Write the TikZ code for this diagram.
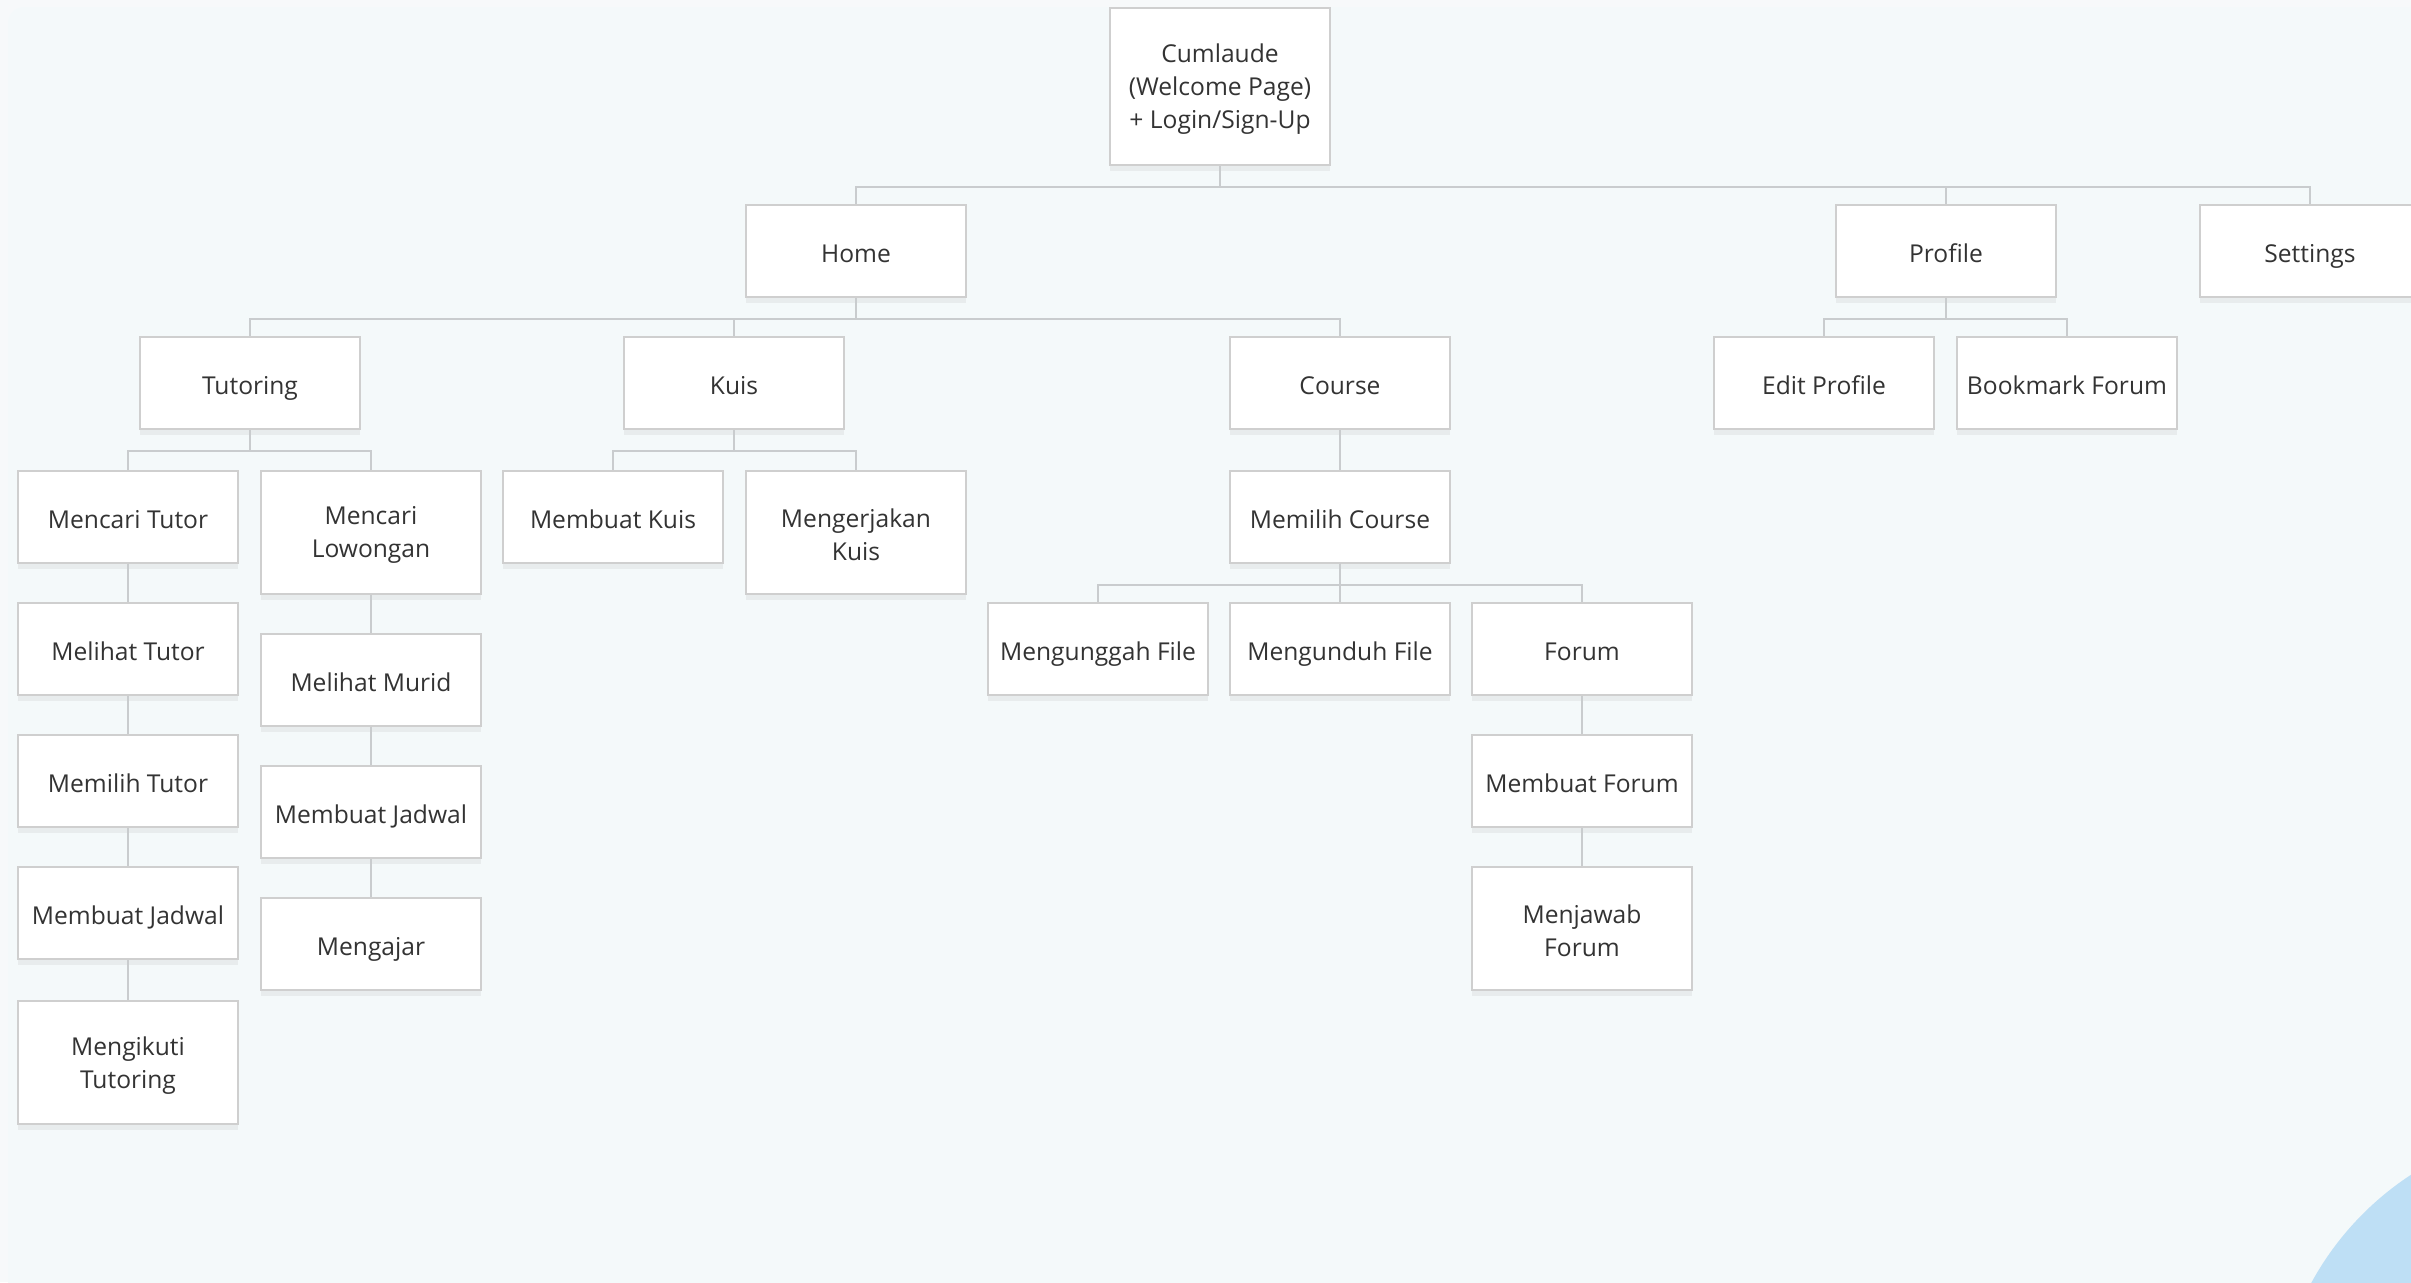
\documentclass[tikz,border=0pt]{standalone}
\usepackage{fontspec}
\setmainfont{Open Sans}
\usetikzlibrary{shadows}

\definecolor{bgouter}{HTML}{F7F9FA}
\definecolor{bginner}{HTML}{F4F9FA}
\definecolor{boxline}{HTML}{CFCFCF}
\definecolor{linkline}{HTML}{C9CCCE}
\definecolor{txt}{HTML}{333333}
\definecolor{blob}{HTML}{BEDFF5}

\begin{document}
\begin{tikzpicture}[
        x=0.5pt, y=-0.5pt,
        pagebase/.style={draw=boxline, line width=1pt, fill=white, align=center,
            text=txt, font=\fontsize{12.3}{16.5}\selectfont,
            minimum width=110pt, minimum height=46pt, inner sep=2pt,
            drop shadow={opacity=0.10, shadow xshift=0pt, shadow yshift=-3pt}},
        page/.style={pagebase, text height=14.6pt, text depth=3pt},
        tallpage/.style={pagebase, minimum height=61.5pt, text height=28.5pt},
        link/.style={draw=linkline, line width=1pt}]

    % canvas
    \useasboundingbox (0,0) rectangle (2411,1282);
    \clip (0,0) rectangle (2411,1282);
    \fill[bgouter] (0,0) rectangle (2411,1282);
    \fill[bginner, rounded corners=8pt] (8,7) rectangle (2460,1320);
    \fill[blob] (2575,1426) circle [radius=150pt];

    % level 0 and 1
    \node[pagebase, minimum height=78.5pt, text height=45pt] (root) at (1220,86.5) {Cumlaude\\(Welcome Page)\\+ Login/Sign-Up};
    \node[page] (home) at (856,251) {Home};
    \node[page] (profile) at (1946,251) {Profile};
    \node[page] (settings) at (2310,251) {Settings};

    % level 2
    \node[page] (tutoring) at (250,383) {Tutoring};
    \node[page] (kuis) at (734,383) {Kuis};
    \node[page] (course) at (1340,383) {Course};
    \node[page] (editprofile) at (1824,383) {Edit Profile};
    \node[page] (bookmark) at (2067,383) {Bookmark Forum};

    % tutoring branch
    \node[page] (caritutor) at (128,516.5) {Mencari Tutor};
    \node[page] (lihattutor) at (128,649) {Melihat Tutor};
    \node[page] (pilihtutor) at (128,781) {Memilih Tutor};
    \node[page] (jadwalmurid) at (128,913) {Membuat Jadwal};
    \node[tallpage] (ikuti) at (128,1062.5) {Mengikuti\\Tutoring};
    \node[tallpage] (carilowongan) at (371,532) {Mencari\\Lowongan};
    \node[page] (lihatmurid) at (371,679.5) {Melihat Murid};
    \node[page] (jadwaltutor) at (371,812) {Membuat Jadwal};
    \node[page] (ajar) at (371,944) {Mengajar};

    % kuis branch
    \node[page] (buatkuis) at (613,516.5) {Membuat Kuis};
    \node[tallpage] (kerjakuis) at (856,532) {Mengerjakan\\Kuis};

    % course branch
    \node[page] (pilihcourse) at (1340,516.5) {Memilih Course};
    \node[page] (unggah) at (1098,649) {Mengunggah File};
    \node[page] (unduh) at (1340,649) {Mengunduh File};
    \node[page] (forum) at (1582,649) {Forum};
    \node[page] (buatforum) at (1582,781) {Membuat Forum};
    \node[tallpage] (jawabforum) at (1582,928.5) {Menjawab\\Forum};

    % connectors
    \foreach \c in {home,profile,settings}
        \draw[link] (root.south) -- ++(0,21) -| (\c.north);
    \foreach \c in {tutoring,kuis,course}
        \draw[link] (home.south) -- ++(0,21) -| (\c.north);
    \foreach \c in {editprofile,bookmark}
        \draw[link] (profile.south) -- ++(0,21) -| (\c.north);
    \foreach \c in {caritutor,carilowongan}
        \draw[link] (tutoring.south) -- ++(0,21) -| (\c.north);
    \foreach \c in {buatkuis,kerjakuis}
        \draw[link] (kuis.south) -- ++(0,21) -| (\c.north);
    \foreach \c in {unggah,unduh,forum}
        \draw[link] (pilihcourse.south) -- ++(0,21) -| (\c.north);
    \draw[link] (course) -- (pilihcourse);
    \draw[link] (caritutor) -- (lihattutor) -- (pilihtutor) -- (jadwalmurid) -- (ikuti);
    \draw[link] (carilowongan) -- (lihatmurid) -- (jadwaltutor) -- (ajar);
    \draw[link] (forum) -- (buatforum) -- (jawabforum);
\end{tikzpicture}
\end{document}
